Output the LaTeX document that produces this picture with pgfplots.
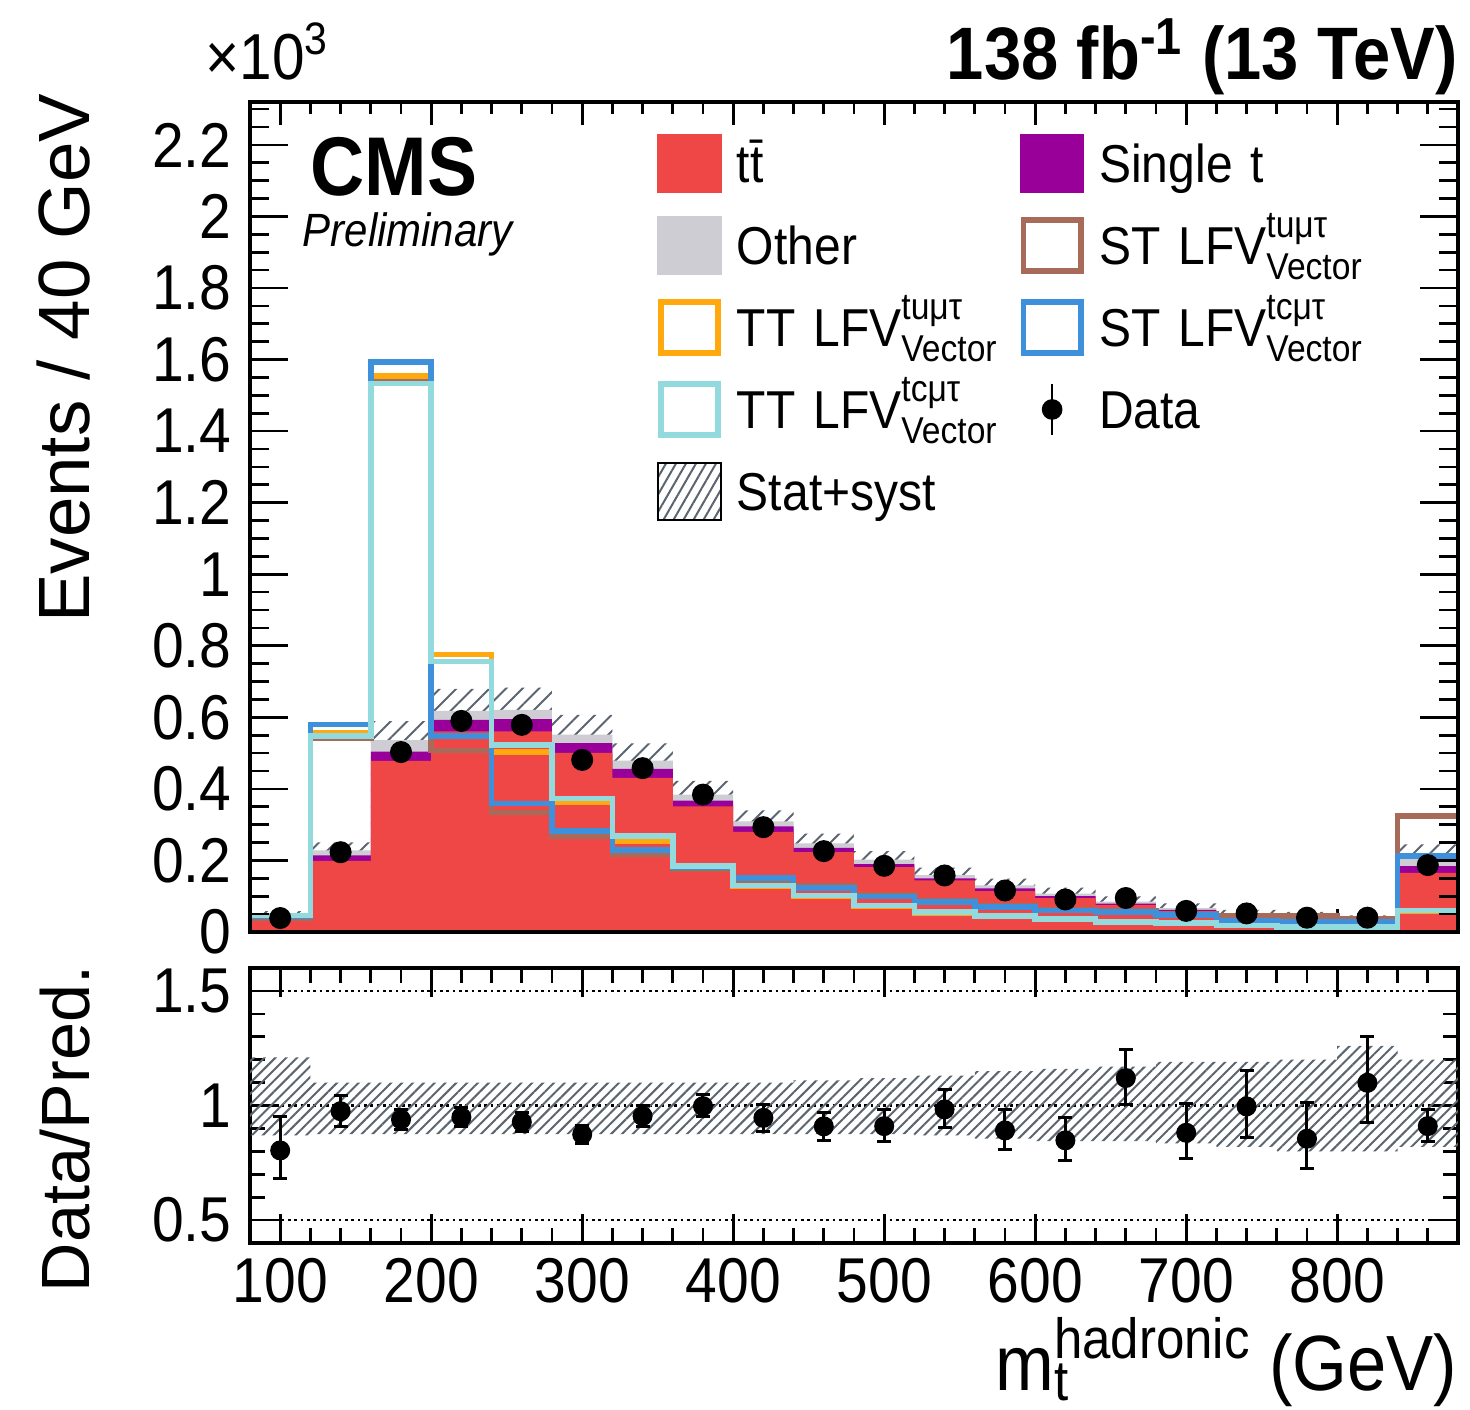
\documentclass[border=0pt]{standalone}
\usepackage{fontspec}
\setmainfont{Liberation Sans}[FakeStretch=0.9]
\newfontfamily\plainsans{Liberation Sans}
\usepackage{amsmath}
\usepackage{pgfplots}
\usepackage{pgfplotstable}
\pgfplotsset{compat=1.18}
\usepgfplotslibrary{fillbetween}
\usetikzlibrary{patterns.meta}

\definecolor{ttred}{HTML}{EF4646}
\definecolor{stpurple}{HTML}{990099}
\definecolor{othgrey}{HTML}{CDCDD3}
\definecolor{sigorange}{HTML}{FFA90E}
\definecolor{sigbrown}{HTML}{A96B59}
\definecolor{sigblue}{HTML}{3F90DA}
\definecolor{sigcyan}{HTML}{92DADD}
\definecolor{hatch}{HTML}{5A6570}

% bins: left edge, backgrounds (x10^3), band (rel.), signals
\pgfplotstableread{
x   tt    st    oth   rlo   rhi  stu   ttu   stc   ttc
80  0.036 0.005 0.007 0.870 1.21 0.040 0.045 0.044 0.046
120 0.199 0.015 0.014 0.875 1.10 0.541 0.557 0.580 0.547
160 0.478 0.026 0.032 0.875 1.10 1.545 1.554 1.593 1.533
200 0.561 0.032 0.025 0.875 1.10 0.507 0.776 0.547 0.756
240 0.561 0.034 0.026 0.875 1.10 0.334 0.504 0.359 0.523
280 0.501 0.027 0.024 0.875 1.10 0.268 0.362 0.283 0.373
320 0.431 0.025 0.023 0.875 1.10 0.218 0.255 0.230 0.268
360 0.351 0.016 0.017 0.875 1.10 0.176 0.180 0.182 0.185
400 0.280 0.015 0.014 0.875 1.10 0.145 0.127 0.151 0.130
440 0.223 0.012 0.013 0.875 1.11 0.130 0.100 0.123 0.102
480 0.181 0.009 0.012 0.875 1.12 0.105 0.072 0.099 0.074
520 0.144 0.006 0.009 0.870 1.13 0.088 0.054 0.083 0.055
560 0.114 0.008 0.008 0.855 1.15 0.072 0.043 0.069 0.044
600 0.095 0.005 0.007 0.845 1.16 0.062 0.035 0.060 0.036
640 0.075 0.004 0.006 0.845 1.17 0.058 0.027 0.055 0.028
680 0.058 0.004 0.005 0.835 1.19 0.052 0.025 0.047 0.026
720 0.045 0.003 0.004 0.820 1.19 0.046 0.018 0.032 0.018
760 0.040 0.003 0.004 0.800 1.20 0.044 0.014 0.029 0.014
800 0.031 0.003 0.003 0.800 1.26 0.038 0.014 0.028 0.014
840 0.165 0.019 0.020 0.820 1.20 0.324 0.058 0.212 0.060
880 0.165 0.019 0.020 0.820 1.20 0.324 0.058 0.212 0.060
}\hist

% data: bin centre, events (x10^3), data/pred with errors
\pgfplotstableread{
x   d     r     ep    em
100 0.039 0.804 0.148 0.123
140 0.223 0.975 0.068 0.065
180 0.503 0.939 0.044 0.043
220 0.590 0.949 0.044 0.040
260 0.579 0.928 0.040 0.040
300 0.481 0.874 0.040 0.041
340 0.458 0.954 0.046 0.044
380 0.384 0.997 0.053 0.047
420 0.293 0.946 0.057 0.058
460 0.226 0.909 0.062 0.061
500 0.185 0.910 0.073 0.065
540 0.158 0.983 0.085 0.077
580 0.116 0.891 0.092 0.082
620 0.091 0.848 0.101 0.087
660 0.095 1.120 0.123 0.116
700 0.059 0.881 0.126 0.113
740 0.052 0.996 0.156 0.137
780 0.040 0.855 0.157 0.130
820 0.040 1.099 0.201 0.171
860 0.187 0.910 0.073 0.065
}\data

\newcommand\legbox[1]{\addlegendimage{legend image code/.code={\fill[#1] (0pt,-2.85pt) rectangle (18.9pt,14.25pt);}}}
\newcommand\legline[1]{\addlegendimage{legend image code/.code={\draw[#1,line width=1.7pt] (0.85pt,-2pt) rectangle (18.05pt,13.4pt);}}}

\pgfplotsset{
  cms/.style={
    scale only axis, width=362.4pt,
    xmin=80, xmax=880,
    tick align=inside, tick pos=both,
    tick style={black, line width=0.8pt},
    axis line style={line width=1pt},
    tick label style={font=\fontsize{19}{19}\selectfont},
    /pgf/number format/assume math mode=true,
    yticklabel style={inner sep=0pt, xshift=-5.4pt},
    xticklabel style={inner sep=0pt, yshift=-4.5pt},
  },
}

\begin{document}
\begin{tikzpicture}

% ---- main panel
\begin{axis}[cms, at={(0,0)}, anchor=south west, height=249pt,
    ymin=0, ymax=2.32, axis on top,
    xtick={100,200,...,800}, minor xtick={80,100,...,880}, xticklabels={},
    ytick=\empty,
    major tick length=7pt, minor tick length=3.6pt,
    legend columns=2,
    legend style={at={(0.3369,0.9693)}, anchor=north west, draw=none, fill=none,
      inner sep=0pt, outer sep=0pt, row sep=0pt, column sep=0pt,
      font=\fontsize{16}{16}\selectfont,
      nodes={inner sep=0pt, anchor=base west, text height=16.5pt, text depth=8.1pt,
             text width=84.9pt, align=left},
      /tikz/every odd column/.append style={column sep=4.5pt}},
  ]
  \addplot[const plot, fill=othgrey, draw=none, forget plot]
    table[x=x, y expr=\thisrow{tt}+\thisrow{st}+\thisrow{oth}] {\hist} \closedcycle;
  \addplot[const plot, fill=stpurple, draw=none, forget plot]
    table[x=x, y expr=\thisrow{tt}+\thisrow{st}] {\hist} \closedcycle;
  \addplot[const plot, fill=ttred, draw=none, forget plot]
    table[x=x, y=tt] {\hist} \closedcycle;

  \addplot[const plot, draw=none, name path=bup, forget plot]
    table[x=x, y expr=(\thisrow{tt}+\thisrow{st}+\thisrow{oth})*\thisrow{rhi}] {\hist};
  \addplot[const plot, draw=none, name path=blo, forget plot]
    table[x=x, y expr=(\thisrow{tt}+\thisrow{st}+\thisrow{oth})*\thisrow{rlo}] {\hist};
  \addplot[pattern={Lines[angle=45,distance=3.5pt,line width=0.6pt]}, pattern color=hatch,
    draw=none, forget plot] fill between[of=bup and blo];

  \addplot[const plot, draw=sigbrown, line width=1.7pt, forget plot] table[x=x, y=stu] {\hist};
  \addplot[const plot, draw=sigorange, line width=1.7pt, forget plot] table[x=x, y=ttu] {\hist};
  \addplot[const plot, draw=sigblue, line width=1.7pt, forget plot] table[x=x, y=stc] {\hist};
  \addplot[const plot, draw=sigcyan, line width=1.7pt, forget plot] table[x=x, y=ttc] {\hist};

  \addplot[only marks, mark=*, mark size=3.1pt, black, forget plot] table[x=x, y=d] {\data};

  \legbox{ttred}      \addlegendentry{t\={t}}
  \legbox{stpurple}   \addlegendentry{Single t}
  \legbox{othgrey}    \addlegendentry{Other}
  \legline{sigbrown}  \addlegendentry{ST LFV$^{\text{tuμτ}}_{\text{Vector}}$}
  \legline{sigorange} \addlegendentry{TT LFV$^{\text{tuμτ}}_{\text{Vector}}$}
  \legline{sigblue}   \addlegendentry{ST LFV$^{\text{tcμτ}}_{\text{Vector}}$}
  \legline{sigcyan}   \addlegendentry{TT LFV$^{\text{tcμτ}}_{\text{Vector}}$}
  \addlegendimage{legend image code/.code={
      \draw[black, line width=0.8pt] (9.45pt,-2pt) -- (9.45pt,13.4pt);
      \fill[black] (9.45pt,5.7pt) circle (2.9pt);}}
  \addlegendentry{Data}
  \addlegendimage{legend image code/.code={
      \fill[pattern={Lines[angle=60,distance=2.6pt,line width=0.6pt]}, pattern color=hatch]
        (0pt,-2.85pt) rectangle (18.9pt,14.25pt);}}
  \addlegendentry{Stat+syst}
\end{axis}

% y ticks of the main panel (longer than the x ticks)
\begin{axis}[cms, at={(0,0)}, anchor=south west, height=249pt,
    ymin=0, ymax=2.32,
    xtick=\empty,
    ytick={0,0.2,...,2.2}, minor ytick={0,0.05,...,2.3},
    major tick length=11.4pt, minor tick length=5.7pt,
  ]
\end{axis}

% ---- ratio panel
\begin{axis}[cms, at={(0,-10.8pt)}, anchor=north west, height=82.5pt,
    ymin=0.4, ymax=1.6,
    xtick={100,200,...,800}, minor xtick={80,100,...,880},
    ytick={0.5,1,1.5}, minor ytick={0.4,0.5,...,1.6},
    major tick length=8.7pt, minor tick length=4.5pt,
    ymajorgrids, grid style={black, line width=0.8pt, dash pattern=on 0.8pt off 1.1pt},
  ]
  \addplot[const plot, draw=none, name path=rup] table[x=x, y=rhi] {\hist};
  \addplot[const plot, draw=none, name path=rdn] table[x=x, y=rlo] {\hist};
  \addplot[pattern={Lines[angle=45,distance=2.3pt,line width=0.6pt]}, pattern color=hatch,
    draw=none] fill between[of=rup and rdn];
  \addplot[only marks, mark=*, mark size=2.8pt, black,
    error bars/.cd, y dir=both, y explicit, error mark=-,
    error bar style={line width=0.9pt, black},
    error mark options={rotate=90, mark size=2.1pt, line width=0.9pt, black}]
    table[x=x, y=r, y error plus=ep, y error minus=em] {\data};
\end{axis}

% ---- texts around the axes
\node[anchor=base east, inner sep=0pt, font=\bfseries\fontsize{22.3}{22.3}\selectfont]
  at (362.4pt,255.6pt) {138 fb$^{\text{-1}}$ (13 TeV)};
\node[anchor=base west, inner sep=0pt, font=\fontsize{19.5}{19.5}\selectfont]
  at (-13.5pt,255.6pt) {×10$^{\text{3}}$};
\node[anchor=base west, inner sep=0pt, font=\bfseries\fontsize{25}{25}\selectfont]
  at (18pt,220.8pt) {CMS};
\node[anchor=base west, inner sep=0pt, font=\itshape\fontsize{14}{14}\selectfont]
  at (15.6pt,205.5pt) {Preliminary};
\node[rotate=90, anchor=base east, inner sep=0pt, font=\plainsans\fontsize{21.8}{21.8}\selectfont]
  at (-48pt,251.7pt) {Events / 40 GeV};
\node[rotate=90, anchor=base east, inner sep=0pt, font=\plainsans\fontsize{20.5}{20.5}\selectfont]
  at (-48pt,-9.9pt) {Data/Pred.};
\node[anchor=base east, inner sep=0pt, font=\fontsize{23.5}{23.5}\selectfont]
  at (362.4pt,-137.4pt)
  {m\rlap{\raisebox{-3pt}{\fontsize{17}{17}\selectfont t}}\raisebox{9.6pt}{\fontsize{17}{17}\selectfont hadronic} (GeV)};

\pgfresetboundingbox
\path[use as bounding box] (-75pt,-143.1pt) rectangle (366pt,279.6pt);
\end{tikzpicture}
\end{document}
